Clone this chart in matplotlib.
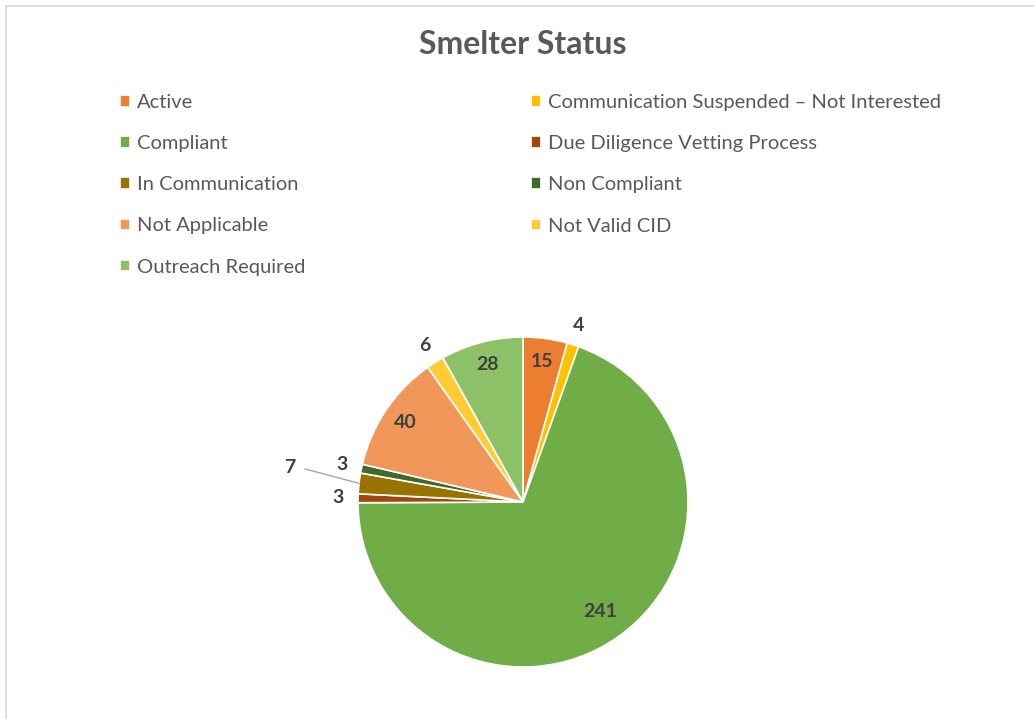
import matplotlib.pyplot as plt
import numpy as np
from matplotlib.lines import Line2D

# Dados
categorias = [
    "Active",
    "Communication Suspended \u2013 Not Interested",
    "Compliant",
    "Due Diligence Vetting Process",
    "In Communication",
    "Non Compliant",
    "Not Applicable",
    "Not Valid CID",
    "Outreach Required",
]
valores = [15, 4, 241, 3, 7, 3, 40, 6, 28]
cores = ["#ED7D31", "#FFC000", "#70AD47", "#9E480E", "#997300",
         "#43682B", "#F1975A", "#FFCD33", "#8CC168"]

W, H = 1034, 719
fig = plt.figure(figsize=(W / 100, H / 100), dpi=100)
plt.rcParams["font.family"] = ["Lato", "DejaVu Sans"]
texto = "#595959"

# Moldura cinza (borda do gráfico do Excel)
fig.add_artist(Line2D([6 / W, 6 / W], [0, 1 - 6 / H], color="#d9d9d9", lw=1.2))
fig.add_artist(Line2D([6 / W, 1], [1 - 6 / H, 1 - 6 / H], color="#d9d9d9", lw=1.2))

# Pizza: centro (523, 502), raio 165 px
cx, cy, r = 523, 502, 165
ax = fig.add_axes([(cx - r) / W, (H - cy - r) / H, 2 * r / W, 2 * r / H])
wedges, _ = ax.pie(valores, colors=cores, startangle=90, counterclock=False,
                   radius=1, wedgeprops=dict(edgecolor="white", linewidth=1.2))
ax.set_xlim(-1, 1)
ax.set_ylim(-1, 1)
ax.axis("off")

# Rótulos de dados
total = sum(valores)
acum = np.cumsum([0] + valores)
for i, v in enumerate(valores):
    meio = np.deg2rad(90 - (acum[i] + v / 2) / total * 360)
    if v >= 15:
        d = 0.81 if v > 200 else 0.86
        ax.text(d * np.cos(meio), d * np.sin(meio), str(v), ha="center", va="center",
                fontsize=14, fontweight="bold", color="#404040")
    elif categorias[i] == "In Communication":
        lx, ly = -1.38, 0.21
        ax.plot([lx + 0.06, np.cos(meio)], [ly - 0.01, np.sin(meio)],
                color="#a6a6a6", lw=1, clip_on=False)
        ax.text(lx, ly, str(v), ha="right", va="center",
                fontsize=14, fontweight="bold", color="#404040")
    else:
        d = 1.12
        ax.text(d * np.cos(meio), d * np.sin(meio), str(v), ha="center", va="center",
                fontsize=14, fontweight="bold", color="#404040")

# Título
fig.text(cx / W, 1 - 45 / H, "Smelter Status", ha="center", va="center",
         fontsize=23, fontweight="bold", color=texto)

# Legenda em duas colunas
esq = [0, 2, 4, 6, 8]
dir_ = [1, 3, 5, 7]
for idx, x0 in ((esq, 120), (dir_, 531)):
    leg = fig.legend([wedges[i] for i in idx], [categorias[i] for i in idx],
                     loc="upper left", bbox_to_anchor=(x0 / W, 1 - 94 / H),
                     frameon=False, fontsize=14.5, handlelength=0.5, handleheight=0.5,
                     handletextpad=0.35, labelspacing=1.2, borderaxespad=0, borderpad=0)
    for t in leg.get_texts():
        t.set_color(texto)

fig.savefig("out.png", dpi=100)
